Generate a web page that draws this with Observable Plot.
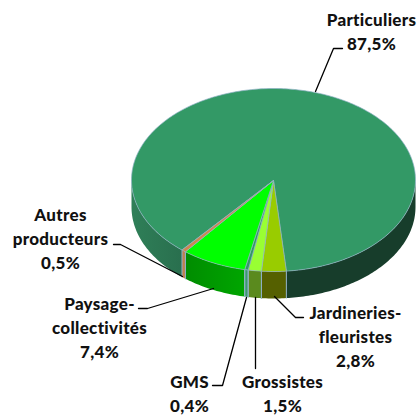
<!DOCTYPE html>
<html><head><meta charset="utf-8">
<script src="https://cdn.jsdelivr.net/npm/d3@7"></script>
<script src="https://cdn.jsdelivr.net/npm/@observablehq/plot@0.6"></script>
<style>html,body{margin:0;padding:0;background:#fff}svg{display:block}</style>
</head><body><div id="c"></div>
<script>
const names = ["Jardineries-fleuristes","Grossistes","GMS","Paysage-collectivités","Autres producteurs","Particuliers"];
const values = [2.8,1.5,0.4,7.4,0.5,87.5];
const labels = ["2,8%","1,5%","0,4%","7,4%","0,5%","87,5%"];
const topColors = ["#99cc00","#99ff33","#339966","#00ff00","#cc8850","#339966"];
const sideLeft = ["#556000","#5a8a1e","#3d9a6d","#00a600","#c08050","#2f7f58"];
const sideRight = ["#556000","#5a8a1e","#3d9a6d","#008c00","#c08050","#296f4e"];
const sideBack = "#173d2b"; // right-hand part of the big slice's wall

// pie layout
const cx = 273, cy = 179.5, rx = 142, ry = 91.5, depth = 27, startDeg = 5.2;
const edge = "#8fb0c4";
const total = d3.sum(values);
const toXY = (deg, dy = 0) => {
  const t = deg * Math.PI / 180;
  return {x: cx + rx * Math.sin(t), y: cy + ry * Math.cos(t) + dy};
};
let acc = startDeg;
const slices = values.map((v, i) => {
  const a0 = acc, a1 = acc - v / total * 360;
  acc = a1;
  return {i, a0, a1};
});
const arc = (a0, a1) => {
  const n = Math.max(2, Math.ceil(Math.abs(a1 - a0)));
  return d3.range(n + 1).map(k => a0 + (a1 - a0) * k / n);
};

// wall pieces: the front half of the ellipse only
const wallPieces = slices.flatMap(s => s.i < 5
  ? [{id: s.i, a0: s.a0, a1: s.a1, c0: sideLeft[s.i], c1: sideRight[s.i]}]
  : [{id: 5, a0: s.a0, a1: -90, c0: sideRight[5], c1: sideLeft[5]},
     {id: 6, a0: startDeg, a1: 90, c0: sideBack, c1: sideBack}]);
const walls = wallPieces.flatMap(w => {
  const list = arc(w.a0, w.a1);
  return [...list.map(d => toXY(d)), ...list.slice().reverse().map(d => toXY(d, depth))]
    .map(p => ({...p, id: w.id}));
});

// top face wedges, big one first
const wedges = [];
[5, 0, 1, 2, 3, 4].forEach(i => {
  const s = slices[i];
  const c = {x: cx, y: cy + 0.5, id: i, col: topColors[i]};
  wedges.push(c);
  arc(s.a0, s.a1).forEach(d => wedges.push({...toXY(d), id: i, col: topColors[i]}));
  wedges.push(c);
});

// vertical slice borders on the wall
const borders = [];
slices.slice(0, 5).forEach(s => {
  [s.a0, s.a1].forEach((d, j) => {
    borders.push({...toXY(d), id: s.i + "-" + j});
    borders.push({...toXY(d, depth), id: s.i + "-" + j});
  });
});

// annotation layout: leader polylines and label anchors, per slice
const leaderPaths = [
  [[274,296],[295,317],[303,317]],
  [[255,297],[255,368]],
  [[246,297],[222,385],[212,385]],
  [[213,288],[147,308],[138,308]],
  [[182,276],[120,244],[113,244]],
  [[315,91],[333,48],[342,48]]
];
const labelAnchors = [
  [355,313],[282,382],[189,382],[99,304],[60,215],[371,20]
];
const labelLines = names.map((n, i) => {
  if (i === 0) return ["Jardineries-","fleuristes",labels[i]];
  if (i === 3) return ["Paysage-","collectivités",labels[i]];
  if (i === 4) return ["Autres","producteurs",labels[i]];
  return [n, labels[i]];
});
const textRows = labelLines.flatMap((ls, i) => ls.map((t, j) => ({t, x: labelAnchors[i][0], y: labelAnchors[i][1] + j * 24})));
const leaders = leaderPaths.flatMap((p, i) => p.map(([x, y]) => ({x, y, id: i})));

// gradients for the wall pieces
const gradients = () => {
  const defs = d3.create("svg:defs");
  wallPieces.forEach(w => {
    const g = defs.append("linearGradient").attr("id", "wall" + w.id)
      .attr("x1", 0).attr("x2", 1).attr("y1", 0).attr("y2", 0);
    const leftFirst = toXY(w.a0).x < toXY(w.a1).x;
    g.append("stop").attr("offset", 0).attr("stop-color", leftFirst ? w.c0 : w.c1);
    g.append("stop").attr("offset", 1).attr("stop-color", leftFirst ? w.c1 : w.c0);
  });
  return defs.node();
};
const wallMarks = wallPieces.map(w =>
  Plot.line(walls.filter(p => p.id === w.id), {x: "x", y: "y", fill: `url(#wall${w.id})`, stroke: "none", curve: "linear"})
);

const chart = Plot.plot({
  width: 417, height: 415, margin: 0,
  style: {letterSpacing: "0.3px"},
  x: {domain: [0, 417], range: [0, 417], axis: null},
  y: {domain: [0, 415], range: [0, 415], axis: null},
  marks: [
    gradients,
    ...wallMarks,
    Plot.line(borders, {x: "x", y: "y", z: "id", stroke: edge, strokeWidth: 1}),
    Plot.line(wedges, {x: "x", y: "y", z: "id", fill: "col", stroke: edge, strokeWidth: 1, strokeOpacity: 0.7, curve: "linear"}),
    Plot.line(leaders, {x: "x", y: "y", z: "id", stroke: "#000", strokeWidth: 1.3}),
    Plot.text(textRows, {x: "x", y: "y", text: "t", fontFamily: "Lato", fontWeight: 900, fontSize: 17, fill: "#111", textAnchor: "middle"})
  ]
});
document.getElementById("c").append(chart);
</script></body></html>
